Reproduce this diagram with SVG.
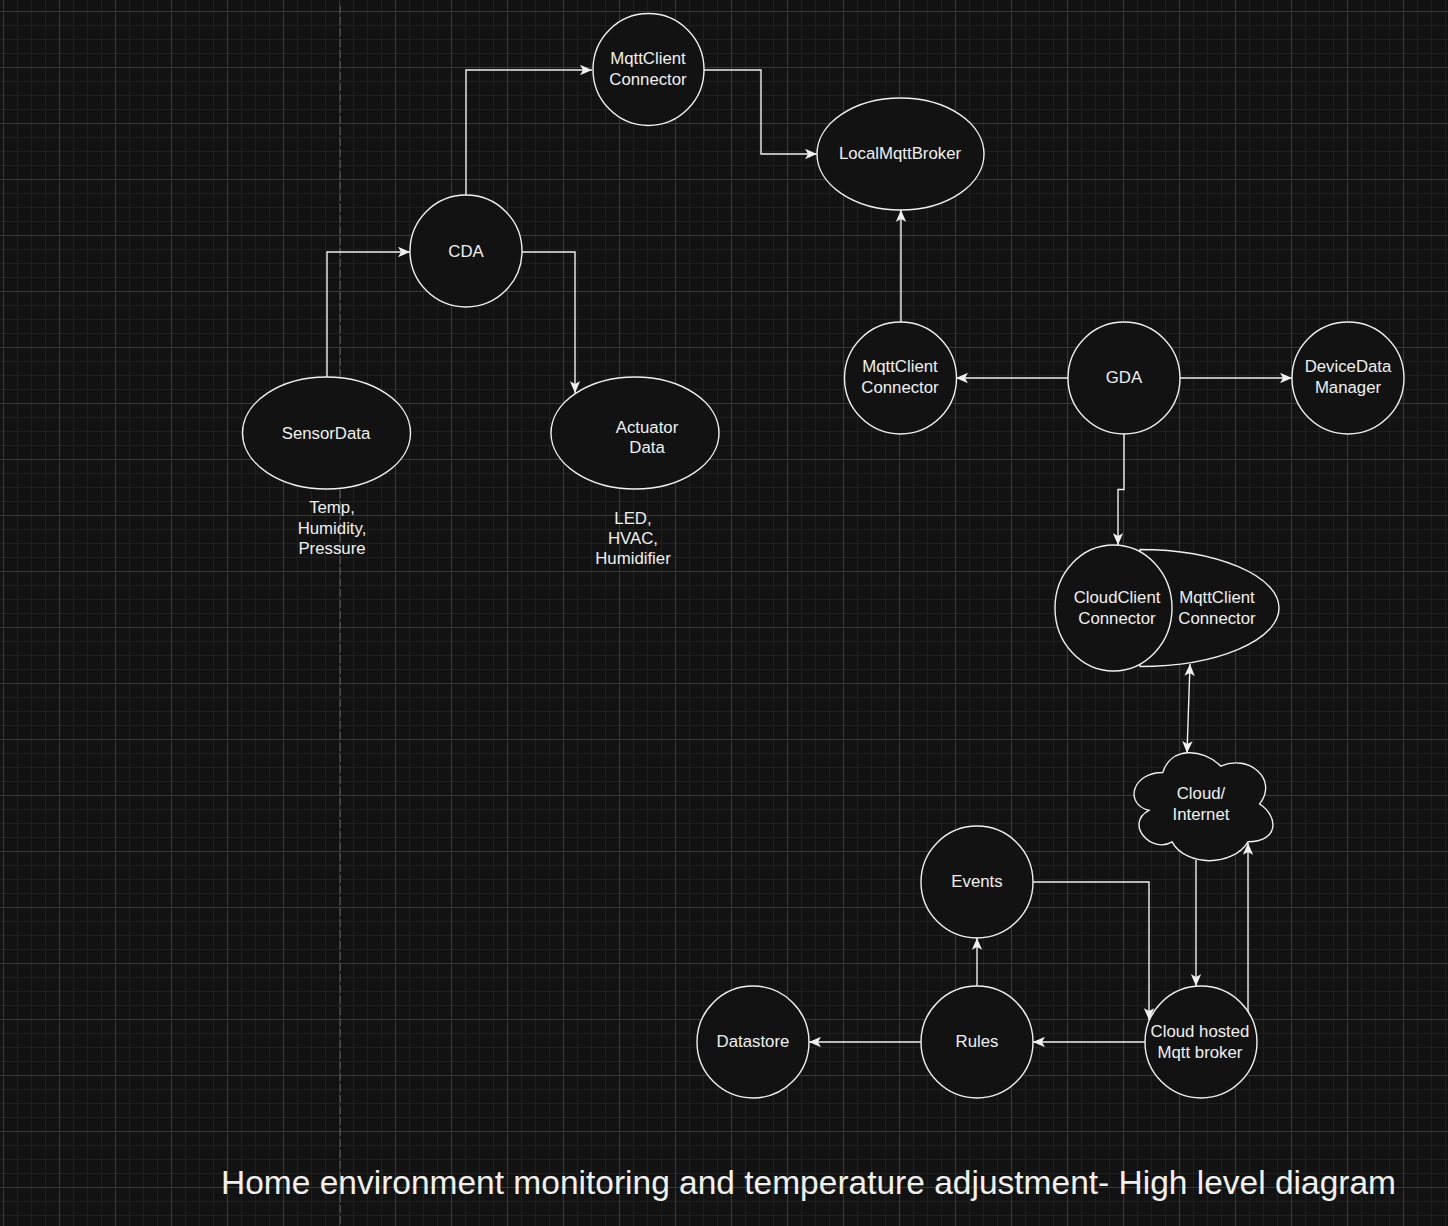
<svg xmlns="http://www.w3.org/2000/svg" width="1448" height="1226" viewBox="0 0 1448 1226">
  <defs>
    <style>
      .shape { fill: #121212; stroke: #f0f0f0; stroke-width: 1.4; }
      .edge { fill: none; stroke: #f0f0f0; stroke-width: 1.4; }
      .label { font-family: "Liberation Sans", Arial, Helvetica, sans-serif; font-size: 16.8px; fill: #f0f0f0; text-anchor: middle; }
      .title { font-family: "Liberation Sans", Arial, Helvetica, sans-serif; font-size: 33.5px; fill: #f0f0f0; text-anchor: middle; }
    </style>
    <pattern id="grid" x="3" y="11" width="56" height="56" patternUnits="userSpaceOnUse">
      <path d="M14.5,0 V56 M28.5,0 V56 M42.5,0 V56 M0,14.5 H56 M0,28.5 H56 M0,42.5 H56" stroke="#1f1f1f" stroke-width="1" fill="none"/>
      <path d="M0.5,0 V56 M0,0.5 H56" stroke="#383838" stroke-width="1" fill="none"/>
    </pattern>
    <marker id="arrow" viewBox="0 0 12 10.5" refX="12" refY="5.25" markerWidth="12" markerHeight="10.5" orient="auto-start-reverse" markerUnits="userSpaceOnUse">
      <path d="M12,5.25 L0,0 L3,5.25 L0,10.5 Z" fill="#f0f0f0"/>
    </marker>
  </defs>

  <!-- canvas -->
  <rect x="0" y="0" width="1448" height="1226" fill="#121212"/>
  <rect x="0" y="0" width="1448" height="1226" fill="url(#grid)"/>
  <line x1="340.5" y1="6" x2="340.5" y2="1226" stroke="#4a4a4a" stroke-width="1" stroke-dasharray="8 3"/>

  <!-- connectors -->
  <g id="connectors">
    <path class="edge" d="M327,377 V252 H410" marker-end="url(#arrow)"/>
    <path class="edge" d="M466,195 V70 H592" marker-end="url(#arrow)"/>
    <path class="edge" d="M522,252 H575 V393" marker-end="url(#arrow)"/>
    <path class="edge" d="M704,70 H761 V154 H817" marker-end="url(#arrow)"/>
    <path class="edge" d="M901,322 V210" marker-end="url(#arrow)"/>
    <path class="edge" d="M1068,378 H956" marker-end="url(#arrow)"/>
    <path class="edge" d="M1180,378 H1292" marker-end="url(#arrow)"/>
    <path class="edge" d="M1124,434 V489.5 H1118 V545" marker-end="url(#arrow)"/>
    <path class="edge" d="M1190,664 L1187,753" marker-start="url(#arrow)" marker-end="url(#arrow)"/>
    <path class="edge" d="M1196,860 V986" marker-end="url(#arrow)"/>
    <path class="edge" d="M1248,1012 V843" marker-end="url(#arrow)"/>
    <path class="edge" d="M1033,882 H1149 V1020" marker-end="url(#arrow)"/>
    <path class="edge" d="M1145,1042 H1033" marker-end="url(#arrow)"/>
    <path class="edge" d="M921,1042 H809" marker-end="url(#arrow)"/>
    <path class="edge" d="M977,986 V938" marker-end="url(#arrow)"/>
  </g>

  <!-- nodes -->
  <g id="mqtt-client-cda">
    <ellipse class="shape" cx="648.5" cy="69.5" rx="55.5" ry="56"/>
    <text class="label" x="648" y="64">MqttClient</text>
    <text class="label" x="648" y="85">Connector</text>
  </g>
  <g id="cda">
    <ellipse class="shape" cx="466" cy="251" rx="56" ry="56"/>
    <text class="label" x="466" y="257">CDA</text>
  </g>
  <g id="local-mqtt-broker">
    <ellipse class="shape" cx="900.5" cy="154" rx="83.5" ry="56"/>
    <text class="label" x="900" y="159">LocalMqttBroker</text>
  </g>
  <g id="sensor-data">
    <ellipse class="shape" cx="326.5" cy="433" rx="84" ry="56"/>
    <text class="label" x="326" y="439">SensorData</text>
  </g>
  <g id="sensor-data-note">
    <text class="label" x="332" y="513">Temp,</text>
    <text class="label" x="332" y="533.5">Humidity,</text>
    <text class="label" x="332" y="554">Pressure</text>
  </g>
  <g id="actuator-data">
    <ellipse class="shape" cx="635" cy="433" rx="84" ry="56"/>
    <text class="label" x="647" y="433">Actuator</text>
    <text class="label" x="647" y="453">Data</text>
  </g>
  <g id="actuator-data-note">
    <text class="label" x="633" y="524">LED,</text>
    <text class="label" x="633" y="544">HVAC,</text>
    <text class="label" x="633" y="564">Humidifier</text>
  </g>
  <g id="mqtt-client-gda">
    <ellipse class="shape" cx="900.5" cy="378" rx="56" ry="56"/>
    <text class="label" x="900" y="372">MqttClient</text>
    <text class="label" x="900" y="393">Connector</text>
  </g>
  <g id="gda">
    <ellipse class="shape" cx="1124" cy="378" rx="56" ry="56"/>
    <text class="label" x="1124" y="383">GDA</text>
  </g>
  <g id="device-data-manager">
    <ellipse class="shape" cx="1348" cy="378" rx="56" ry="56"/>
    <text class="label" x="1348" y="372">DeviceData</text>
    <text class="label" x="1348" y="393">Manager</text>
  </g>
  <g id="cloud-mqtt-client">
    <path class="shape" d="M1140,549.5 A139,58.5 0 0 1 1140,666.5 Z"/>
    <text class="label" x="1217" y="603">MqttClient</text>
    <text class="label" x="1217" y="624">Connector</text>
  </g>
  <g id="cloud-client">
    <ellipse class="shape" cx="1113.5" cy="608" rx="58.5" ry="63"/>
    <text class="label" x="1117" y="603">CloudClient</text>
    <text class="label" x="1117" y="624">Connector</text>
  </g>
  <g id="cloud-internet">
    <path class="shape" d="M1162.75,772.5 C1131.75,772.5 1124,804 1148.8,810.3 C1124,824.2 1151.9,854.4 1172.05,841.8 C1186,867 1232.5,867 1248,841.8 C1279,841.8 1279,816.6 1259.6,804 C1279,778.8 1248,753.6 1220.9,766.2 C1201.5,747.3 1170.5,747.3 1162.75,772.5 Z"/>
    <text class="label" x="1201" y="799">Cloud/</text>
    <text class="label" x="1201" y="820">Internet</text>
  </g>
  <g id="events">
    <ellipse class="shape" cx="977" cy="882" rx="56" ry="56"/>
    <text class="label" x="977" y="887">Events</text>
  </g>
  <g id="rules">
    <ellipse class="shape" cx="977" cy="1042" rx="56" ry="56"/>
    <text class="label" x="977" y="1047">Rules</text>
  </g>
  <g id="datastore">
    <ellipse class="shape" cx="753" cy="1042" rx="56" ry="56"/>
    <text class="label" x="753" y="1047">Datastore</text>
  </g>
  <g id="cloud-mqtt-broker">
    <ellipse class="shape" cx="1201" cy="1042" rx="56" ry="56"/>
    <text class="label" x="1200" y="1037">Cloud hosted</text>
    <text class="label" x="1200" y="1057.5">Mqtt broker</text>
  </g>

  <g id="title">
    <text class="title" x="808.5" y="1194">Home environment monitoring and temperature adjustment- High level diagram</text>
  </g>
</svg>
